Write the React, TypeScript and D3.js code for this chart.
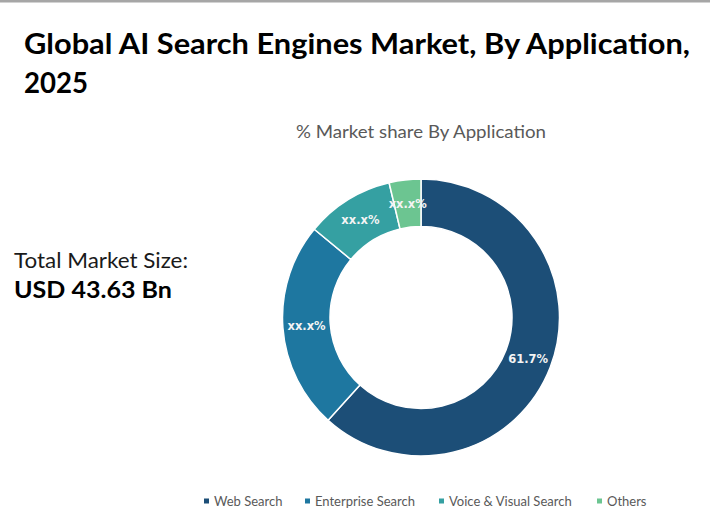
import React from 'react';
import * as d3 from 'd3';

const categories = ['Web Search', 'Enterprise Search', 'Voice & Visual Search', 'Others'];
const shares = [61.7, 24.3, 10.3, 3.7];
const labels = ['61.7%', 'xx.x%', 'xx.x%', 'xx.x%'];
const colors = ['#1c4e77', '#1e77a0', '#35a0a2', '#6cc591'];

const width = 710;
const height = 524;

export default function App() {
  const cx = 421;
  const cy = 317.5;
  const outer = 138.5;
  const inner = 91;

  const data = categories.map((name, i) => ({ name, value: shares[i], label: labels[i], color: colors[i] }));
  const pie = d3.pie<any>().sort(null).value((d) => d.value);
  const arc = d3.arc<any>().innerRadius(inner).outerRadius(outer);
  const arcs = pie(data);

  // where each legend entry starts
  const legendStarts = [204, 305, 439, 597];

  return (
    <svg width={width} height={height} style={{ position: 'absolute', left: 0, top: 0, background: '#fff' }}>
      <rect x={0} y={0} width={width} height={2.5} fill="#a6a6a6" />
      <g fontFamily="Lato, 'Open Sans', sans-serif" fill="#000">
        <text x={24} y={54} fontSize={28} fontWeight={700} textLength={666} lengthAdjust="spacingAndGlyphs">
          Global AI Search Engines Market, By Application,
        </text>
        <text x={24} y={93} fontSize={28} fontWeight={700} textLength={64} lengthAdjust="spacingAndGlyphs">
          2025
        </text>
        <text x={cx} y={138} fontSize={17.5} fill="#595959" textAnchor="middle" textLength={250} lengthAdjust="spacingAndGlyphs">
          % Market share By Application
        </text>
        <text x={14} y={268} fontSize={22} fill="#1a1a1a" textLength={174} lengthAdjust="spacingAndGlyphs">
          Total Market Size:
        </text>
        <text x={14} y={298} fontSize={23} fontWeight={700} textLength={158} lengthAdjust="spacingAndGlyphs">
          USD 43.63 Bn
        </text>
      </g>
      <g transform={`translate(${cx}, ${cy})`}>
        {arcs.map((a, idx) => (
          <path key={idx} d={arc(a) as string} fill={a.data.color} stroke="#fff" strokeWidth={1.5} />
        ))}
        {arcs.map((a, idx) => {
          const [x, y] = arc.centroid(a);
          return (
            <text key={'l' + idx} x={x} y={y} dy="0.35em" textAnchor="middle" fill="#f4f4f4"
              fontFamily="'DejaVu Sans', sans-serif" fontWeight={700} fontSize={11.5}>
              {a.data.label}
            </text>
          );
        })}
      </g>
      <g fontFamily="Lato, 'Open Sans', sans-serif" fontSize={13} fill="#595959">
        {data.map((d, i) => (
          <g key={d.name} transform={`translate(${legendStarts[i]}, 501)`}>
            <rect x={0} y={-2.5} width={5} height={5} fill={d.color} />
            <text x={10} y={4.5}>{d.name}</text>
          </g>
        ))}
      </g>
    </svg>
  );
}
